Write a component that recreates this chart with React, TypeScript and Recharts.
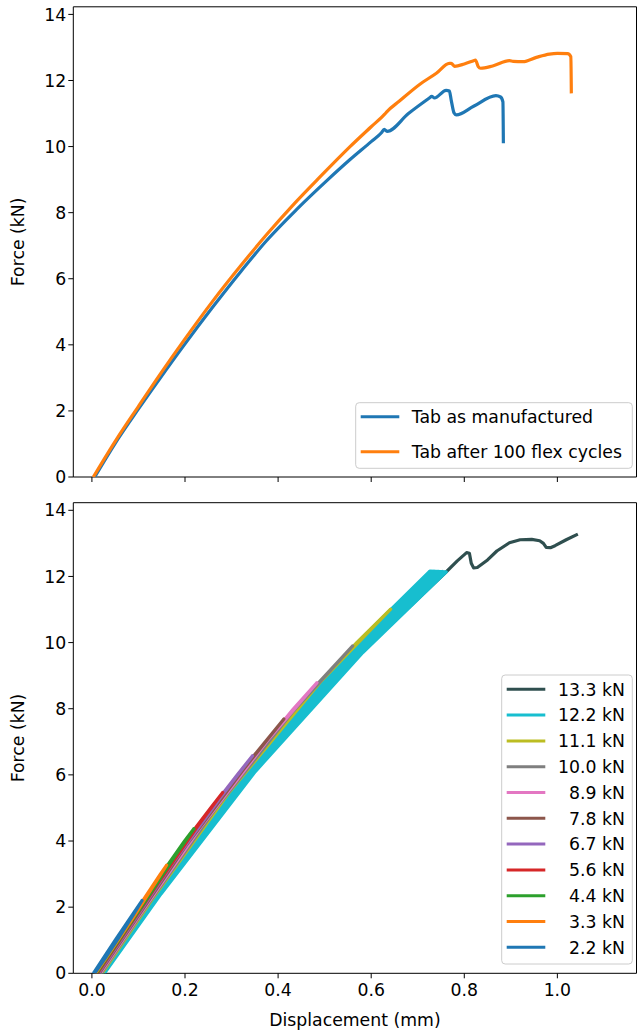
import React from 'react';
import { ComposedChart, Line, XAxis, YAxis, ReferenceArea, Legend, Label } from 'recharts';

type P = [number, number];

// ---------- axes ----------
const X_TICKS = [0, 0.2, 0.4, 0.6, 0.8, 1.0];
const Y_TICKS = [0, 2, 4, 6, 8, 10, 12, 14];
const X_DOMAIN: [number, number] = [-0.04, 1.17];
const Y_DOMAIN: [number, number] = [0, 14.23];

// ---------- top panel ----------
const TOP_NAMES = ['Tab as manufactured', 'Tab after 100 flex cycles'];
const TOP_COLORS = ['#1f77b4', '#ff7f0e'];

const tabManufactured: P[] = [
  [0.006, 0], [0.05, 1.02], [0.1, 2.06], [0.146, 2.98], [0.2, 4.03], [0.26, 5.15], [0.32, 6.22],
  [0.375, 7.15], [0.44, 8.1], [0.507, 9.0], [0.554, 9.6], [0.6, 10.15], [0.622, 10.42],
  [0.628, 10.52], [0.634, 10.46], [0.68, 11.0], [0.725, 11.47], [0.73, 11.52], [0.736, 11.47],
  [0.761, 11.7], [0.768, 11.68], [0.772, 11.4], [0.778, 11.02], [0.783, 10.96], [0.82, 11.22],
  [0.868, 11.54], [0.878, 11.5], [0.883, 11.35], [0.884, 10.1],
];

const tabFlexed: P[] = [
  [0.003, 0], [0.05, 1.08], [0.1, 2.14], [0.146, 3.1], [0.2, 4.18], [0.26, 5.33], [0.32, 6.4],
  [0.375, 7.33], [0.43, 8.2], [0.49, 9.08], [0.554, 9.99], [0.6, 10.6], [0.629, 10.98],
  [0.634, 11.06], [0.66, 11.37], [0.704, 11.88], [0.74, 12.22], [0.768, 12.52], [0.772, 12.52],
  [0.779, 12.43], [0.8, 12.5], [0.82, 12.6], [0.824, 12.62], [0.83, 12.42], [0.835, 12.37],
  [0.861, 12.44], [0.897, 12.6], [0.905, 12.58], [0.926, 12.57], [0.955, 12.7], [0.983, 12.8],
  [1.0, 12.82], [1.022, 12.81], [1.029, 12.72], [1.03, 11.61],
];

// ---------- bottom panel (load levels) ----------
const LEVEL_LABELS = ['13.3 kN', '12.2 kN', '11.1 kN', '10.0 kN', '8.9 kN', '7.8 kN', '6.7 kN', '5.6 kN', '4.4 kN', '3.3 kN', '2.2 kN'];
const LEVEL_COLORS = ['#2f4f4f', '#17becf', '#bcbd22', '#7f7f7f', '#e377c2', '#8c564b', '#9467bd', '#d62728', '#2ca02c', '#ff7f0e', '#1f77b4'];

const level133: P[] = [
  [0.023, 0], [0.1228, 2], [0.2246, 4], [0.339, 6], [0.4619, 8], [0.6005, 10], [0.706, 11.4],
  [0.762, 12.15], [0.785, 12.47], [0.805, 12.72], [0.811, 12.7], [0.815, 12.4], [0.82, 12.26],
  [0.828, 12.27], [0.85, 12.5], [0.87, 12.77], [0.897, 13.02], [0.92, 13.11], [0.945, 13.12],
  [0.962, 13.08], [0.97, 13.0], [0.976, 12.88], [0.985, 12.87], [0.995, 12.93], [1.019, 13.11],
  [1.044, 13.28],
];
const level122: P[] = [
  [0.02, 0], [0.115, 2], [0.212, 4], [0.321, 6], [0.438, 8], [0.57, 10], [0.726, 12.16],
  [0.5516, 9.7], [0.3307, 6.1], [0.1378, 2.4], [0.023, 0],
  [0.0208, 0], [0.117, 2], [0.2152, 4], [0.3256, 6], [0.444, 8], [0.5777, 10], [0.735, 12.16],
  [0.559, 9.7], [0.3353, 6.1], [0.14, 2.4], [0.0238, 0],
  [0.0215, 0], [0.1189, 2], [0.2183, 4], [0.33, 6], [0.45, 8], [0.5853, 10], [0.7437, 12.15],
  [0.5663, 9.7], [0.3399, 6.1], [0.1421, 2.4], [0.0245, 0],
  [0.0223, 0], [0.1209, 2], [0.2215, 4], [0.3346, 6], [0.456, 8], [0.5929, 10], [0.7526, 12.15],
  [0.5738, 9.7], [0.3445, 6.1], [0.1444, 2.4], [0.0253, 0],
  [0.023, 0], [0.1228, 2], [0.2246, 4], [0.339, 6], [0.4619, 8], [0.6005, 10], [0.726, 12.16],
  [0.7613, 12.14], [0.5821, 9.7], [0.351, 6.1], [0.1485, 2.4], [0.027, 0],
];
const level111: P[] = [
  [0.019, 0], [0.114, 2], [0.211, 4], [0.32, 6], [0.437, 8], [0.569, 10], [0.6417, 11.01],
  [0.4908, 8.81], [0.2965, 5.5], [0.1276, 2.2], [0.022, 0],
];
const level100: P[] = [
  [0.017, 0], [0.112, 2], [0.209, 4], [0.318, 6], [0.435, 8], [0.5602, 9.9],
  [0.4322, 7.92], [0.2643, 4.95], [0.115, 1.98], [0.02, 0],
];
const level89: P[] = [
  [0.015, 0], [0.11, 2], [0.207, 4], [0.316, 6], [0.433, 8], [0.4836, 8.79],
  [0.3768, 7.03], [0.2326, 4.4], [0.1025, 1.76], [0.018, 0],
];
const level78: P[] = [
  [0.013, 0], [0.108, 2], [0.205, 4], [0.314, 6], [0.4124, 7.69],
  [0.3246, 6.15], [0.2015, 3.85], [0.0904, 1.55], [0.016, 0],
];
const level67: P[] = [
  [0.011, 0], [0.058, 1], [0.106, 2], [0.153, 3], [0.203, 4], [0.257, 5], [0.312, 6], [0.345, 6.58],
  [0.2755, 5.3], [0.172, 3.3], [0.0764, 1.3], [0.014, 0],
];
const level56: P[] = [
  [0.009, 0], [0.056, 1], [0.104, 2], [0.151, 3], [0.201, 4], [0.255, 5], [0.281, 5.47],
  [0.2246, 4.4], [0.1409, 2.7], [0.0648, 1.1], [0.012, 0],
];
const level44: P[] = [
  [0.007, 0], [0.054, 1], [0.102, 2], [0.149, 3], [0.199, 4], [0.219, 4.37],
  [0.176, 3.5], [0.1156, 2.2], [0.0533, 0.9], [0.01, 0],
];
const level33: P[] = [
  [0.005, 0], [0.052, 1], [0.1, 2], [0.147, 3], [0.1605, 3.27],
  [0.1311, 2.62], [0.0867, 1.64], [0.0396, 0.65], [0.008, 0],
];
const level22: P[] = [
  [0.003, 0], [0.05, 1], [0.098, 2], [0.1076, 2.2],
  [0.0904, 1.8], [0.0588, 1.1], [0.0305, 0.5], [0.006, 0],
];

const LEVEL_DATA: P[][] = [level133, level122, level111, level100, level89, level78, level67, level56, level44, level33, level22];
const TOP_DATA: P[][] = [tabManufactured, tabFlexed];

const toRows = (pts: P[]) => pts.map(([x, y]) => ({ x, y }));

// ---------- styling ----------
const FONT = 'DejaVu Sans';
const FS = 17.3;
const W = 637;
const PLOT_LEFT = 73.3;
const PLOT_RIGHT = 636.5;

const tickStyle = { fill: '#000', fontSize: FS, fontFamily: FONT };

function TopLegend() {
  const rows = [416.7, 451.7];
  return (
    <svg width={W} height={490} style={{ position: 'absolute', left: 0, top: 0, overflow: 'visible' }}>
      <rect x={355.7} y={402.7} width={276.6} height={65.6} rx={3.5} fill="#fff" fillOpacity={0.8} stroke="#cccccc" strokeWidth={1} />
      {TOP_NAMES.map((n, i) => (
        <g key={n}>
          <line x1={360.7} x2={399.3} y1={rows[i]} y2={rows[i]} stroke={TOP_COLORS[i]} strokeWidth={3} />
          <text x={411.7} y={rows[i] + 6.3} fontFamily={FONT} fontSize={FS} fill="#000">{n}</text>
        </g>
      ))}
    </svg>
  );
}

function BottomLegend() {
  const top = 185;
  return (
    <svg width={W} height={544} style={{ position: 'absolute', left: 0, top: 0, overflow: 'visible' }}>
      <rect x={501.7} y={top} width={130.6} height={289} rx={3.5} fill="#fff" fillOpacity={0.8} stroke="#cccccc" strokeWidth={1} />
      {LEVEL_LABELS.map((n, i) => {
        const y = 199.3 + i * 25.8;
        return (
          <g key={n}>
            <line x1={506.7} x2={545.3} y1={y} y2={y} stroke={LEVEL_COLORS[i]} strokeWidth={3} />
            <text x={625} y={y + 6.3} textAnchor="end" fontFamily={FONT} fontSize={FS} fill="#000">{n}</text>
          </g>
        );
      })}
    </svg>
  );
}

function YLabel({ cy }: { cy: number }) {
  const x = 24.2;
  return (
    <text x={x} y={cy} transform={`rotate(-90 ${x} ${cy})`} textAnchor="middle" fontFamily={FONT} fontSize={FS} fill="#000">
      Force (kN)
    </text>
  );
}

function XLabel() {
  return (
    <text x={(PLOT_LEFT + PLOT_RIGHT) / 2} y={536} textAnchor="middle" fontFamily={FONT} fontSize={FS} fill="#000">
      Displacement (mm)
    </text>
  );
}

const fmt1 = (v: number) => v.toFixed(1);

export default function App() {
  return (
    <div style={{ position: 'absolute', left: 0, top: 0, width: W, height: 1034, background: '#fff' }}>
      <div style={{ position: 'absolute', left: 0, top: 0 }}>
        <ComposedChart width={W} height={490} margin={{ top: 6.8, right: W - PLOT_RIGHT, bottom: 8, left: 13.3 }}>
          <XAxis
            type="number" dataKey="x" domain={X_DOMAIN} ticks={X_TICKS} interval={0} allowDataOverflow
            axisLine={false} tickLine={{ stroke: '#000' }} tickSize={5} height={5} tickFormatter={() => ''}
          />
          <YAxis
            type="number" domain={Y_DOMAIN} ticks={Y_TICKS} interval={0} allowDataOverflow
            axisLine={false} tickLine={{ stroke: '#000' }} tickSize={5} tickMargin={2} width={60} tick={tickStyle}
          >
            <Label content={() => <YLabel cy={241.9} />} />
          </YAxis>
          {TOP_DATA.map((d, i) => (
            <Line
              key={TOP_NAMES[i]} name={TOP_NAMES[i]} data={toRows(d)} dataKey="y" type="monotoneX"
              stroke={TOP_COLORS[i]} strokeWidth={3.2} dot={false} activeDot={false}
              strokeLinejoin="round" isAnimationActive={false}
            />
          ))}
          <ReferenceArea x1={X_DOMAIN[0]} x2={X_DOMAIN[1]} y1={Y_DOMAIN[0]} y2={Y_DOMAIN[1]} fill="none" stroke="#000" strokeWidth={1} fillOpacity={0} />
          <Legend layout="vertical" align="center" verticalAlign="middle" content={() => <TopLegend />}
            wrapperStyle={{ left: 0, top: 0, width: W, height: 490, pointerEvents: 'none' }} />
        </ComposedChart>
      </div>
      <div style={{ position: 'absolute', left: 0, top: 490 }}>
        <ComposedChart width={W} height={544} margin={{ top: 12.7, right: W - PLOT_RIGHT, bottom: 20.7, left: 13.3 }}>
          <XAxis
            type="number" dataKey="x" domain={X_DOMAIN} ticks={X_TICKS} interval={0} allowDataOverflow
            axisLine={false} tickLine={{ stroke: '#000' }} tickSize={5} tickMargin={5} height={40}
            tick={tickStyle} tickFormatter={fmt1}
          >
            <Label content={() => <XLabel />} />
          </XAxis>
          <YAxis
            type="number" domain={Y_DOMAIN} ticks={Y_TICKS} interval={0} allowDataOverflow
            axisLine={false} tickLine={{ stroke: '#000' }} tickSize={5} tickMargin={2} width={60} tick={tickStyle}
          >
            <Label content={() => <YLabel cy={248} />} />
          </YAxis>
          {LEVEL_DATA.map((d, i) => (
            <Line
              key={LEVEL_LABELS[i]} name={LEVEL_LABELS[i]} data={toRows(d)} dataKey="y" type="linear"
              stroke={LEVEL_COLORS[i]} strokeWidth={3.2} dot={false} activeDot={false}
              strokeLinejoin="round" isAnimationActive={false}
            />
          ))}
          <ReferenceArea x1={X_DOMAIN[0]} x2={X_DOMAIN[1]} y1={Y_DOMAIN[0]} y2={Y_DOMAIN[1]} fill="none" stroke="#000" strokeWidth={1} fillOpacity={0} />
          <Legend layout="vertical" align="center" verticalAlign="middle" content={() => <BottomLegend />}
            wrapperStyle={{ left: 0, top: 0, width: W, height: 544, pointerEvents: 'none' }} />
        </ComposedChart>
      </div>
    </div>
  );
}
